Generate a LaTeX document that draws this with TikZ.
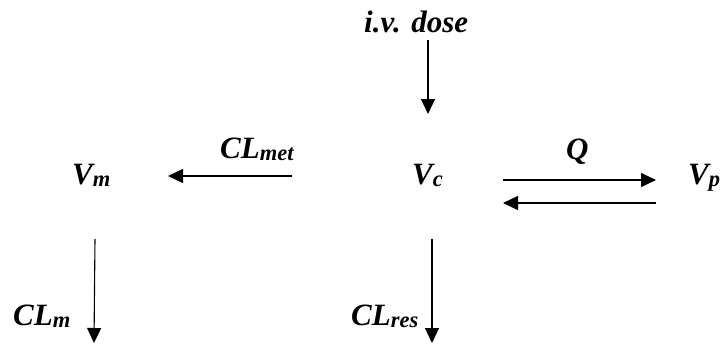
\documentclass[tikz,border=0pt]{standalone}
\usepackage{fontspec}
\setmainfont{Liberation Serif}
\usetikzlibrary{arrows.meta}
\newcommand{\sbx}[1]{\raisebox{-2.5pt}{\fontsize{22.5pt}{22.5pt}\selectfont #1}}
\tikzset{
  lbl/.style={inner sep=0pt, anchor=base west, font=\fontsize{31pt}{31pt}\selectfont\bfseries\itshape},
  flow/.style={line width=1.1pt, -{Triangle[length=15pt,width=14pt]}}
}
\begin{document}
\begin{tikzpicture}[x=1pt,y=-1pt]
\useasboundingbox (0,0) rectangle (726,343);
% labels
\node[lbl] (dose) at (364,32) {i.v. dose};
\node[lbl] (vm) at (72,184) {V\sbx{m}};
\node[lbl] (vc) at (412,184) {V\sbx{c}};
\node[lbl] (vp) at (688,184) {V\sbx{p}};
\node[lbl] (clmet) at (220,158) {CL\sbx{met}};
\node[lbl] (q) at (566,159) {Q};
\node[lbl] (clm) at (13,325) {CL\sbx{m}};
\node[lbl] (clres) at (351,325) {CL\sbx{res}};
% arrow end points
\coordinate (d1) at (428,40);  \coordinate (d2) at (428,114);
\coordinate (m1) at (292,176); \coordinate (m2) at (168,176);
\coordinate (q1) at (503,180); \coordinate (q2) at (656,180);
\coordinate (r1) at (656,203); \coordinate (r2) at (503,203);
\coordinate (a1) at (95,239);  \coordinate (a2) at (94,343);
\coordinate (b1) at (432,239); \coordinate (b2) at (432,343);
\draw[flow] (d1) -- (d2);
\draw[flow] (m1) -- (m2);
\draw[flow] (q1) -- (q2);
\draw[flow] (r1) -- (r2);
\draw[flow] (a1) -- (a2);
\draw[flow] (b1) -- (b2);
\end{tikzpicture}
\end{document}
